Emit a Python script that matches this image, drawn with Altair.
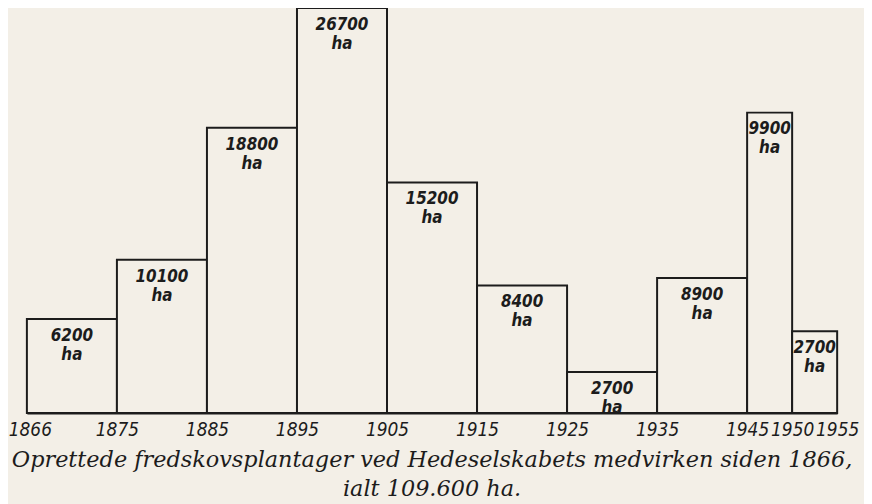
import altair as alt
import pandas as pd

# interval boundaries (first interval 1866-1875 drawn as a full decade)
starts = [1865, 1875, 1885, 1895, 1905, 1915, 1925, 1935, 1945, 1950]
ends = [1875, 1885, 1895, 1905, 1915, 1925, 1935, 1945, 1950, 1955]
# planted area per interval (ha), as labelled
area_ha = [6200, 10100, 18800, 26700, 15200, 8400, 2700, 8900, 9900, 2700]
# bar height as drawn: ha per year
rate = [620, 1010, 1880, 2670, 1520, 840, 270, 890, 1980, 540]
tick_values = [1865, 1875, 1885, 1895, 1905, 1915, 1925, 1935, 1945, 1950, 1955]

title_lines = [
    "Oprettede fredskovsplantager ved Hedeselskabets medvirken siden 1866,",
    "ialt 109.600 ha.",
]

df = pd.DataFrame({"start": starts, "end": ends, "ha": area_ha, "rate": rate})
df["label"] = [f"{v}\nha" for v in area_ha]

paper = "#f3efe7"
ink = "#1c1c1c"
hand_font = "Liberation Sans Narrow, DejaVu Sans Condensed, Liberation Sans"

x_scale = alt.Scale(domain=[1865, 1955], nice=False, zero=False)
y_scale = alt.Scale(domain=[0, 2660], nice=False)

x_axis = alt.Axis(
    values=tick_values,
    labelExpr="datum.value == 1865 ? '1866' : '' + datum.value",
    title=None,
    grid=False,
    ticks=False,
    domain=True,
    domainColor=ink,
    domainWidth=2,
    labelFont=hand_font,
    labelFontStyle="italic",
    labelFontSize=19,
    labelColor=ink,
    labelPadding=8,
    labelOffset={"condition": {"test": "datum.value == 1865", "value": 3}, "value": 0},
    labelFlush=False,
    labelOverlap=False,
)

base = alt.Chart(df)

bars = base.mark_rect(fill=paper, stroke=ink, strokeWidth=2).encode(
    x=alt.X("start:Q", scale=x_scale, axis=x_axis),
    x2="end:Q",
    y=alt.Y("rate:Q", scale=y_scale, axis=None),
    y2=alt.datum(0),
)

labels = base.transform_calculate(mid="(datum.start + datum.end) / 2").mark_text(
    font=hand_font,
    fontStyle="italic",
    fontWeight="bold",
    fontSize=17,
    color=ink,
    lineBreak="\n",
    lineHeight=19,
    baseline="alphabetic",
    align="center",
    dy=22,
).encode(
    x=alt.X("mid:Q", scale=x_scale),
    y=alt.Y("rate:Q", scale=y_scale),
    text="label:N",
)

chart = (
    alt.layer(bars, labels)
    .properties(
        width=815,
        height=406,
        background=paper,
        padding={"left": 19, "top": 0, "right": 27, "bottom": 90},
        autosize=alt.AutoSizeParams(type="none"),
        title=alt.TitleParams(
            text=title_lines,
            orient="bottom",
            anchor="middle",
            offset=9,
            font="DejaVu Serif",
            fontStyle="italic",
            fontWeight="normal",
            fontSize=22.5,
            lineHeight=29,
            color=ink,
        ),
    )
    .configure_view(stroke=None)
)

chart.save("out.html", embed_options={"renderer": "svg", "actions": False})
